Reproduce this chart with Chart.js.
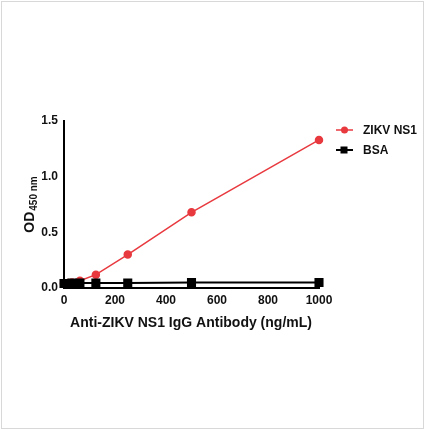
<!DOCTYPE html>
<html>
<head>
<meta charset="utf-8">
<script src="https://cdn.jsdelivr.net/npm/chart.js@4"></script>
<style>
  html, body { margin: 0; padding: 0; background: #fff; }
  #wrap { position: relative; width: 425px; height: 430px; }
  #frame { position: absolute; left: 1px; top: 1px; width: 421px; height: 426px; border: 1px solid #d8d8d8; pointer-events: none; }
</style>
</head>
<body>
<div id="wrap">
  <canvas id="grafico" width="425" height="430"></canvas>
  <div id="frame"></div>
</div>
<script>
// concentracoes em ng/mL
var concentracoes = [0, 7.8, 15.6, 31.25, 62.5, 125, 250, 500, 1000];
var odZikv = [0.04, 0.04, 0.045, 0.05, 0.065, 0.12, 0.30, 0.68, 1.33];
var odBsa = [0.04, 0.04, 0.04, 0.045, 0.045, 0.045, 0.045, 0.05, 0.05];
var ticksX = [0, 200, 400, 600, 800, 1000];
var ticksY = [0, 0.5, 1.0, 1.5];

var vermelho = '#e8393f';
var fonte = '"Liberation Sans", Arial, sans-serif';

function pontos(ys) {
    var arr = [];
    for (let i = 0; i < concentracoes.length; i++) {
        arr.push({x: concentracoes[i], y: ys[i]});
    }
    return arr;
}

var extras = {
    id: 'extras',
    afterDraw: function(chart) {
        var c = chart.ctx;
        c.save();
        // titulo eixo y com subscrito
        c.translate(30, 205);
        c.rotate(-Math.PI / 2);
        c.fillStyle = '#111';
        c.textBaseline = 'alphabetic';
        c.font = 'bold 14px ' + fonte;
        var w1 = c.measureText('OD').width;
        c.font = 'bold 10px ' + fonte;
        var w2 = c.measureText('450 nm').width;
        var x0 = -(w1 + w2) / 2;
        c.font = 'bold 14px ' + fonte;
        c.fillText('OD', x0, 4);
        c.font = 'bold 10px ' + fonte;
        c.fillText('450 nm', x0 + w1 + 1, 7);
        c.restore();

        // titulo eixo x
        c.save();
        c.fillStyle = '#111';
        c.font = 'bold 14px ' + fonte;
        c.textAlign = 'center';
        c.fillText('Anti-ZIKV NS1 IgG Antibody (ng/mL)', 191, 327);
        c.restore();

        // legenda
        var itens = chart.data.datasets;
        for (let i = 0; i < itens.length; i++) {
            var y = 130 + i * 20;
            var ds = itens[i];
            c.save();
            c.strokeStyle = ds.borderColor;
            c.lineWidth = ds.borderWidth;
            c.beginPath();
            c.moveTo(336, y);
            c.lineTo(353, y);
            c.stroke();
            c.fillStyle = ds.pointBackgroundColor;
            if (ds.pointStyle === 'rect') {
                c.fillRect(340.5, y - 3.5, 7, 7);
            } else {
                c.beginPath();
                c.arc(344.5, y, 3.5, 0, Math.PI * 2);
                c.fill();
            }
            c.fillStyle = '#111';
            c.font = 'bold 12px ' + fonte;
            c.textBaseline = 'middle';
            c.fillText(ds.label, 363, y + 1);
            c.restore();
        }
    }
};

var ctx = document.getElementById('grafico');
var myChart = new Chart(ctx, {
    type: 'scatter',
    data: {
        datasets: [{
            label: 'ZIKV NS1',
            data: pontos(odZikv),
            showLine: true,
            borderColor: vermelho,
            borderWidth: 1.5,
            pointBackgroundColor: vermelho,
            pointBorderColor: vermelho,
            pointStyle: 'circle',
            pointRadius: 3.5,
            order: 2
        }, {
            label: 'BSA',
            data: pontos(odBsa),
            showLine: true,
            borderColor: '#000',
            borderWidth: 2,
            pointBackgroundColor: '#000',
            pointBorderColor: '#000',
            pointStyle: 'rect',
            pointRadius: 5,
            order: 1
        }]
    },
    options: {
        responsive: false,
        animation: false,
        clip: false,
        layout: {
            padding: {left: 0, top: 121, right: 106, bottom: 0}
        },
        plugins: {
            legend: {display: false},
            tooltip: {enabled: false}
        },
        scales: {
            x: {
                type: 'linear',
                min: 0,
                max: 1000,
                afterFit: function(s) { s.height = 142; },
                afterBuildTicks: function(s) { s.ticks = ticksX.map(function(v) { return {value: v}; }); },
                grid: {display: false, drawTicks: true, tickLength: 4, tickColor: '#000', tickWidth: 2},
                border: {color: '#000', width: 2},
                ticks: {
                    color: '#111',
                    padding: 1,
                    maxRotation: 0,
                    font: {family: fonte, size: 12, weight: 'bold'},
                    callback: function(v) { return String(v); }
                }
            },
            y: {
                type: 'linear',
                min: 0,
                max: 1.5,
                afterFit: function(s) { s.width = 64; },
                afterBuildTicks: function(s) { s.ticks = ticksY.map(function(v) { return {value: v}; }); },
                grid: {display: false, drawTicks: true, tickLength: 4, tickColor: '#000', tickWidth: 2},
                border: {color: '#000', width: 2},
                ticks: {
                    color: '#111',
                    padding: 2,
                    font: {family: fonte, size: 12, weight: 'bold'},
                    callback: function(v) { return v.toFixed(1); }
                }
            }
        }
    },
    plugins: [extras]
});
</script>
</body>
</html>
